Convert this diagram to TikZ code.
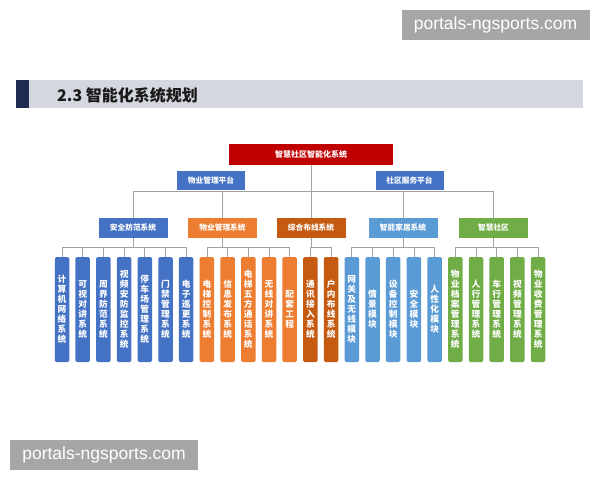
\documentclass[tikz,border=0pt]{standalone}
\usepackage{fontspec}
\setmainfont{Noto Sans CJK SC}
\newfontfamily\wmfont{Liberation Sans}
\pgfdeclarelayer{bg}
\pgfsetlayers{bg,main}
\definecolor{rootred}{HTML}{C00000}
\definecolor{pblue}{HTML}{4472C4}
\definecolor{porange}{HTML}{ED7D31}
\definecolor{pdorange}{HTML}{C55A11}
\definecolor{plblue}{HTML}{5B9BD5}
\definecolor{pgreen}{HTML}{70AD47}
\definecolor{linegray}{HTML}{A3A3A3}
\definecolor{bandgray}{HTML}{D5D7E0}
\definecolor{navy}{HTML}{1F2B50}
\definecolor{wmgray}{HTML}{A6A6A6}
\begin{document}
\begin{tikzpicture}[x=1pt,y=-1pt,
  rootbox/.style={fill=rootred,text=white,font=\fontsize{8}{9}\selectfont\bfseries,minimum width=164pt,minimum height=21pt,inner sep=0pt},
  platbox/.style={fill=pblue,text=white,font=\fontsize{7.7}{9}\selectfont\bfseries,minimum width=68pt,minimum height=19pt,inner sep=0pt},
  grpbox/.style={text=white,font=\fontsize{7.7}{9}\selectfont\bfseries,minimum width=69pt,minimum height=20pt,inner sep=0pt},
  leaf/.style={text=white,font=\fontsize{8.7}{10}\selectfont\bfseries,minimum width=14.5pt,minimum height=105pt,inner sep=0pt,align=center,rounded corners=1.5pt},
  conn/.style={draw=linegray,line width=0.8pt},
  wm/.style={fill=wmgray,text=white,font=\wmfont\fontsize{17.5}{18}\selectfont,inner sep=0pt,minimum height=30pt,minimum width=188pt}
]
\useasboundingbox (0,0) rectangle (600,480);

% watermarks
\node[wm] (wm1) at (495.5,25) {portals-ngsports.com};
\node[wm] (wm2) at (104,455) {portals-ngsports.com};

% header
\fill[bandgray] (16,80) rectangle (583,108);
\fill[navy] (16,80) rectangle (29,108);
\node[anchor=west,text=black!90,font=\fontsize{16}{16}\selectfont\bfseries,inner sep=0pt] (title) at (57,95) {2.3 智能化系统规划};

% root and platforms
\node[rootbox] (r) at (311,154.5) {智慧社区智能化系统};
\node[platbox] (p1) at (211,180.5) {物业管理平台};
\node[platbox] (p2) at (409.5,180.5) {社区服务平台};

% group boxes
\node[grpbox,fill=pblue] (s1) at (133,228) {安全防范系统};
\node[grpbox,fill=porange] (s2) at (222.5,228) {物业管理系统};
\node[grpbox,fill=pdorange] (s3) at (311,228) {综合布线系统};
\node[grpbox,fill=plblue] (s4) at (403,228) {智能家居系统};
\node[grpbox,fill=pgreen] (s5) at (493.5,228) {智慧社区};

% leaves
\node[leaf,fill=pblue] (a1) at (62,309.5) {计\\算\\机\\网\\络\\系\\统};
\node[leaf,fill=pblue] (a2) at (82.7,309.5) {可\\视\\对\\讲\\系\\统};
\node[leaf,fill=pblue] (a3) at (103.4,309.5) {周\\界\\防\\范\\系\\统};
\node[leaf,fill=pblue] (a4) at (124.1,309.5) {视\\频\\安\\防\\监\\控\\系\\统};
\node[leaf,fill=pblue] (a5) at (144.8,309.5) {停\\车\\场\\管\\理\\系\\统};
\node[leaf,fill=pblue] (a6) at (165.5,309.5) {门\\禁\\管\\理\\系\\统};
\node[leaf,fill=pblue] (a7) at (186.2,309.5) {电\\子\\巡\\更\\系\\统};

\node[leaf,fill=porange] (b1) at (206.9,309.5) {电\\梯\\控\\制\\系\\统};
\node[leaf,fill=porange] (b2) at (227.6,309.5) {信\\息\\发\\布\\系\\统};
\node[leaf,fill=porange] (b3) at (248.3,309.5) {电\\梯\\五\\方\\通\\话\\系\\统};
\node[leaf,fill=porange] (b4) at (269,309.5) {无\\线\\对\\讲\\系\\统};
\node[leaf,fill=porange] (b5) at (289.7,309.5) {配\\套\\工\\程};

\node[leaf,fill=pdorange] (c1) at (310.4,309.5) {通\\讯\\接\\入\\系\\统};
\node[leaf,fill=pdorange] (c2) at (331.1,309.5) {户\\内\\布\\线\\系\\统};

\node[leaf,fill=plblue] (d1) at (351.8,309.5) {网\\关\\及\\无\\线\\模\\块};
\node[leaf,fill=plblue] (d2) at (372.5,309.5) {情\\景\\模\\块};
\node[leaf,fill=plblue] (d3) at (393.2,309.5) {设\\备\\控\\制\\模\\块};
\node[leaf,fill=plblue] (d4) at (413.9,309.5) {安\\全\\模\\块};
\node[leaf,fill=plblue] (d5) at (434.6,309.5) {人\\性\\化\\模\\块};

\node[leaf,fill=pgreen] (e1) at (455.3,309.5) {物\\业\\档\\案\\管\\理\\系\\统};
\node[leaf,fill=pgreen] (e2) at (476,309.5) {人\\行\\管\\理\\系\\统};
\node[leaf,fill=pgreen] (e3) at (496.7,309.5) {车\\行\\管\\理\\系\\统};
\node[leaf,fill=pgreen] (e4) at (517.4,309.5) {视\\频\\管\\理\\系\\统};
\node[leaf,fill=pgreen] (e5) at (538.1,309.5) {物\\业\\收\\费\\管\\理\\系\\统};

\coordinate (hub) at (311,191.5);

\begin{pgfonlayer}{bg}
  \fill[white] (0,0) rectangle (600,480);
  \draw[conn] (r.south) -- (r.south |- s3.north);
  \draw[conn] (s1.north) |- (hub) -| (s5.north);
  \draw[conn] (s2.north) -- (s2.north |- hub);
  \draw[conn] (s4.north) -- (s4.north |- hub);
  \foreach \c in {a1,a2,a3,a4,a5,a6,a7}
    \draw[conn] (s1.south) |- ([yshift=9pt]\c.north) -- (\c.north);
  \foreach \c in {b1,b2,b3,b4,b5}
    \draw[conn] (s2.south) |- ([yshift=9pt]\c.north) -- (\c.north);
  \foreach \c in {c1,c2}
    \draw[conn] (s3.south) |- ([yshift=9pt]\c.north) -- (\c.north);
  \foreach \c in {d1,d2,d3,d4,d5}
    \draw[conn] (s4.south) |- ([yshift=9pt]\c.north) -- (\c.north);
  \foreach \c in {e1,e2,e3,e4,e5}
    \draw[conn] (s5.south) |- ([yshift=9pt]\c.north) -- (\c.north);
\end{pgfonlayer}
\end{tikzpicture}
\end{document}
